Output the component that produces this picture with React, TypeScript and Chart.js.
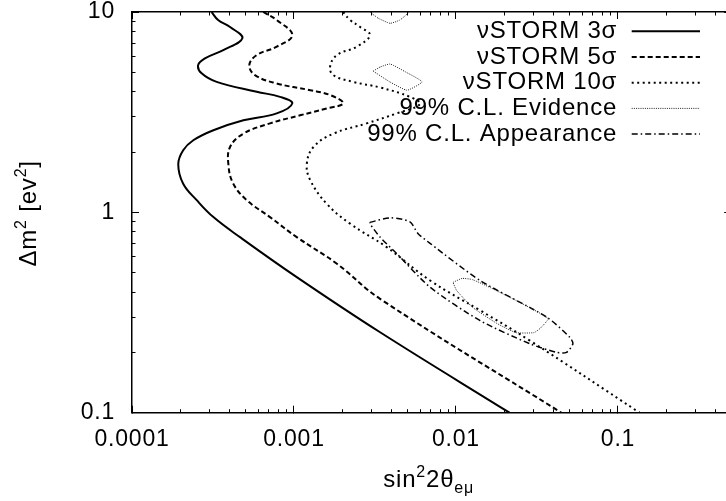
import React, { useEffect, useRef } from 'react';
import { Chart, registerables } from 'chart.js';

Chart.register(...registerables);

type Pt = { x: number; y: number };
const P = (x: number, y: number): Pt => ({ x, y });

// ---- axes ----
const X_MIN = 1e-4;
const X_MAX = 0.5;
const Y_MIN = 0.1;
const Y_MAX = 10;
const xTickValues = [0.0001, 0.001, 0.01, 0.1];
const xTickLabels = ['0.0001', '0.001', '0.01', '0.1'];
const yTickValues = [0.1, 1, 10];
const yTickLabels = ['0.1', '1', '10'];

// ---- legend labels ----
const seriesLabels = ['νSTORM 3σ', 'νSTORM 5σ', 'νSTORM 10σ', '99% C.L. Evidence', '99% C.L. Appearance'];

// ---- contour data (sin^2 2θ, Δm^2) ----
const storm3: Pt[] = [
  P(3.10e-4, 10), P(3.40e-4, 9.12), P(4.03e-4, 8.41), P(4.80e-4, 7.39), P(3.66e-4, 6.46),
  P(2.82e-4, 5.87), P(2.56e-4, 5.43), P(2.69e-4, 4.94), P(3.33e-4, 4.48), P(5.89e-4, 4.0),
  P(8.20e-4, 3.77), P(9.76e-4, 3.5), P(7.82e-4, 3.12), P(4.87e-4, 2.88), P(3.18e-4, 2.57),
  P(2.39e-4, 2.29), P(2.07e-4, 2.04), P(1.93e-4, 1.74), P(2.07e-4, 1.39), P(2.51e-4, 1.15),
  P(3.18e-4, 0.947), P(4.64e-4, 0.752), P(1.04e-3, 0.475), P(3.40e-3, 0.252), P(0.0214, 0.1),
];

const storm5: Pt[] = [
  P(6.46e-4, 10), P(7.82e-4, 9.12), P(9.76e-4, 7.67), P(7.82e-4, 6.71), P(5.89e-4, 6.1),
  P(5.30e-4, 5.43), P(5.74e-4, 4.84), P(7.82e-4, 4.4), P(1.26e-3, 4.07), P(1.67e-3, 3.85),
  P(2.01e-3, 3.5), P(1.59e-3, 3.3), P(1.09e-3, 3.05), P(7.11e-4, 2.78), P(4.87e-4, 2.47),
  P(4.03e-4, 2.12), P(3.94e-4, 1.72), P(4.22e-4, 1.39), P(5.11e-4, 1.15), P(7.11e-4, 0.947),
  P(1.04e-3, 0.752), P(1.84e-3, 0.554), P(3.40e-3, 0.37), P(0.0447, 0.1),
];

const storm10: Pt[] = [
  P(2.01e-3, 10), P(2.22e-3, 9.12), P(2.55e-3, 8.44), P(2.94e-3, 7.67), P(2.44e-3, 6.71),
  P(1.84e-3, 6.1), P(1.67e-3, 5.33), P(1.75e-3, 4.84), P(2.32e-3, 4.48), P(3.40e-3, 4.2),
  P(5.20e-3, 3.77), P(6.00e-3, 3.47), P(4.31e-3, 3.12), P(2.81e-3, 2.78), P(1.75e-3, 2.47),
  P(1.32e-3, 2.12), P(1.20e-3, 1.75), P(1.26e-3, 1.45), P(1.59e-3, 1.105), P(2.22e-3, 0.878),
  P(3.73e-3, 0.671), P(6.92e-3, 0.457), P(0.0141, 0.324), P(0.0286, 0.229), P(0.136, 0.1),
];

const evidenceTop: Pt[] = [
  P(2.94e-3, 10), P(3.30e-3, 9.33), P(3.92e-3, 8.78), P(4.51e-3, 9.12), P(4.99e-3, 9.77), P(5.13e-3, 10),
];
const evidenceMid: Pt[] = [
  P(3.08e-3, 5.07), P(3.40e-3, 5.31), P(3.92e-3, 5.5), P(4.91e-3, 5.01), P(6.17e-3, 4.48),
  P(4.99e-3, 4.07), P(3.92e-3, 4.47), P(3.08e-3, 5.07),
];
const evidenceLow: Pt[] = [
  P(9.58e-3, 0.447), P(0.0109, 0.468), P(0.0126, 0.462), P(0.0162, 0.422), P(0.0248, 0.355),
  P(0.037, 0.295), P(0.033, 0.263), P(0.0303, 0.251), P(0.0234, 0.251), P(0.0179, 0.279),
  P(0.0127, 0.335), P(0.0101, 0.407), P(9.58e-3, 0.447),
];

const appearance: Pt[] = [
  P(2.94e-3, 0.891), P(3.92e-3, 0.939), P(5.20e-3, 0.897), P(5.82e-3, 0.785), P(6.92e-3, 0.7),
  P(0.0141, 0.457), P(0.0365, 0.299), P(0.0506, 0.237), P(0.0527, 0.221), P(0.0481, 0.2),
  P(0.0419, 0.2), P(0.0286, 0.221), P(0.0141, 0.288), P(6.92e-3, 0.423), P(4.31e-3, 0.622),
  P(3.40e-3, 0.752), P(2.94e-3, 0.878), P(2.94e-3, 0.891),
];

const FONT = "'Liberation Sans', Arial, Helvetica, sans-serif";

type Part = { t: string; s: number; dy: number };
const xTitleParts: Part[] = [
  { t: 'sin', s: 24, dy: 0 },
  { t: '2', s: 16, dy: -10 },
  { t: '2θ', s: 24, dy: 0 },
  { t: 'eμ', s: 16, dy: 6 },
];
const yTitleParts: Part[] = [
  { t: 'Δm', s: 24, dy: 0 },
  { t: '2', s: 16, dy: -10 },
  { t: ' [ev', s: 24, dy: 0 },
  { t: '2', s: 16, dy: -10 },
  { t: ']', s: 24, dy: 0 },
];

function drawRich(ctx: CanvasRenderingContext2D, parts: Part[], cx: number, baseY: number) {
  let total = 0;
  for (const p of parts) {
    ctx.font = `${p.s}px ${FONT}`;
    total += ctx.measureText(p.t).width;
  }
  let x = cx - total / 2;
  ctx.textAlign = 'left';
  ctx.textBaseline = 'alphabetic';
  for (const p of parts) {
    ctx.font = `${p.s}px ${FONT}`;
    ctx.fillText(p.t, x, baseY + p.dy);
    x += ctx.measureText(p.t).width;
  }
}

const decorPlugin = {
  id: 'decor',
  beforeDraw(chart: any) {
    (chart.ctx as any).letterSpacing = '0.8px';
  },
  afterDraw(chart: any) {
    const ctx: CanvasRenderingContext2D = chart.ctx;
    const ca = chart.chartArea;
    ctx.save();
    (ctx as any).letterSpacing = '0.8px';
    ctx.fillStyle = '#000';
    // legend (one entry per label)
    const seen = new Set<string>();
    const entries: any[] = [];
    chart.data.datasets.forEach((ds: any) => {
      if (!seen.has(ds.label)) {
        seen.add(ds.label);
        entries.push(ds);
      }
    });
    entries.forEach((ds, i) => {
      const base = ca.top + 26 + i * 25.7;
      ctx.font = `24px ${FONT}`;
      ctx.textAlign = 'right';
      ctx.textBaseline = 'alphabetic';
      ctx.fillText(ds.label, ca.right - 114, base);
      ctx.beginPath();
      ctx.setLineDash(ds.borderDash || []);
      ctx.lineWidth = ds.borderWidth;
      ctx.strokeStyle = ds.borderColor;
      ctx.moveTo(ca.right - 99.5, base - 6.7);
      ctx.lineTo(ca.right - 31.2, base - 6.7);
      ctx.stroke();
    });
    ctx.setLineDash([]);
    // x title
    drawRich(ctx, xTitleParts, (ca.left + ca.right) / 2 - 3, ca.bottom + 74.3);
    // y title
    ctx.save();
    ctx.translate(36, (ca.top + ca.bottom) / 2 + 1);
    ctx.rotate(-Math.PI / 2);
    drawRich(ctx, yTitleParts, 0, 0);
    ctx.restore();
    ctx.restore();
    (ctx as any).letterSpacing = '0px';
  },
};

function keepTicks(major: boolean) {
  return (s: any) => {
    s.ticks = s.ticks.filter((t: any) => {
      const e = Math.floor(Math.log10(t.value) + 1e-9);
      const m = t.value / Math.pow(10, e);
      const r = Math.round(m);
      if (Math.abs(m - r) > 1e-6) return false;
      return major ? r === 1 : true;
    });
  };
}

function labelFrom(values: number[], labels: string[]) {
  return (v: any) => {
    const i = values.findIndex((t) => Math.abs(Math.log10(t) - Math.log10(Number(v))) < 1e-6);
    return i >= 0 ? labels[i] : '';
  };
}

function makeAxis(opts: {
  axis: 'x' | 'y';
  position: string;
  weight: number;
  size: number;
  tickLen: number;
  major: boolean;
  border: boolean;
  labels?: { values: number[]; labels: string[]; padding: number };
}) {
  const isX = opts.axis === 'x';
  return {
    type: 'logarithmic',
    axis: opts.axis,
    position: opts.position,
    weight: opts.weight,
    min: isX ? X_MIN : Y_MIN,
    max: isX ? X_MAX : Y_MAX,
    afterBuildTicks: keepTicks(opts.major),
    afterFit: (s: any) => {
      if (isX) s.height = opts.size;
      else s.width = opts.size;
      s.paddingTop = 0;
      s.paddingBottom = 0;
      s.paddingLeft = 0;
      s.paddingRight = 0;
    },
    grid: {
      display: true,
      drawOnChartArea: false,
      drawTicks: true,
      tickLength: opts.tickLen,
      color: '#000',
      lineWidth: 1,
    },
    border: { display: opts.border, color: '#000', width: 1.5 },
    title: { display: false },
    ticks: opts.labels
      ? {
          display: true,
          autoSkip: false,
          maxRotation: 0,
          minRotation: 0,
          padding: opts.labels.padding,
          color: '#000',
          font: { family: FONT, size: 23, lineHeight: 1 },
          callback: labelFrom(opts.labels.values, opts.labels.labels),
        }
      : { display: false },
  };
}

export default function App() {
  const ref = useRef<HTMLCanvasElement | null>(null);

  useEffect(() => {
    if (!ref.current) return;
    const common = { showLine: true, pointRadius: 0, pointHoverRadius: 0, fill: false, xAxisID: 'x', yAxisID: 'y' };
    const evidenceStyle = {
      ...common,
      label: seriesLabels[3],
      borderColor: '#222',
      borderWidth: 1,
      borderDash: [1, 1.2],
      tension: 0.15,
    };
    const chart = new Chart(ref.current, {
      type: 'scatter',
      data: {
        datasets: [
          { ...common, label: seriesLabels[0], data: storm3, borderColor: '#000', borderWidth: 2, borderDash: [], tension: 0.4 },
          { ...common, label: seriesLabels[1], data: storm5, borderColor: '#000', borderWidth: 2, borderDash: [5, 3], tension: 0.4 },
          { ...common, label: seriesLabels[2], data: storm10, borderColor: '#000', borderWidth: 2, borderDash: [2, 3.5], tension: 0.4 },
          { ...evidenceStyle, data: evidenceTop },
          { ...evidenceStyle, data: evidenceMid },
          { ...evidenceStyle, data: evidenceLow },
          { ...common, label: seriesLabels[4], data: appearance, borderColor: '#000', borderWidth: 1.5, borderDash: [6, 3, 1.5, 3], tension: 0.25 },
        ] as any,
      },
      options: {
        responsive: false,
        maintainAspectRatio: false,
        animation: false,
        devicePixelRatio: 1,
        events: [],
        layout: { padding: { left: 0, top: 0, right: 760 - 731.2, bottom: 0 } },
        plugins: { legend: { display: false }, tooltip: { enabled: false } },
        scales: {
          x: makeAxis({ axis: 'x', position: 'bottom', weight: 1, size: 88.3, tickLen: -7, major: true, border: true, labels: { values: xTickValues, labels: xTickLabels, padding: 22 } }),
          xMinor: makeAxis({ axis: 'x', position: 'bottom', weight: 0, size: 0, tickLen: -3.5, major: false, border: false }),
          xTop: makeAxis({ axis: 'x', position: 'top', weight: 1, size: 12, tickLen: -7, major: true, border: true }),
          xTopMinor: makeAxis({ axis: 'x', position: 'top', weight: 0, size: 0, tickLen: -3.5, major: false, border: false }),
          y: makeAxis({ axis: 'y', position: 'left', weight: 1, size: 132, tickLen: -7, major: true, border: true, labels: { values: yTickValues, labels: yTickLabels, padding: 24 } }),
          yMinor: makeAxis({ axis: 'y', position: 'left', weight: 0, size: 0, tickLen: -3.5, major: false, border: false }),
          yRight: makeAxis({ axis: 'y', position: 'right', weight: 0, size: 0, tickLen: -7, major: true, border: true }),
        } as any,
      },
      plugins: [decorPlugin as any],
    });
    return () => chart.destroy();
  }, []);

  return (
    <div style={{ position: 'fixed', left: 0, top: 0, width: 726, height: 501, overflow: 'hidden', background: '#fff' }}>
      <canvas ref={ref} width={760} height={501} style={{ display: 'block' }} />
    </div>
  );
}
